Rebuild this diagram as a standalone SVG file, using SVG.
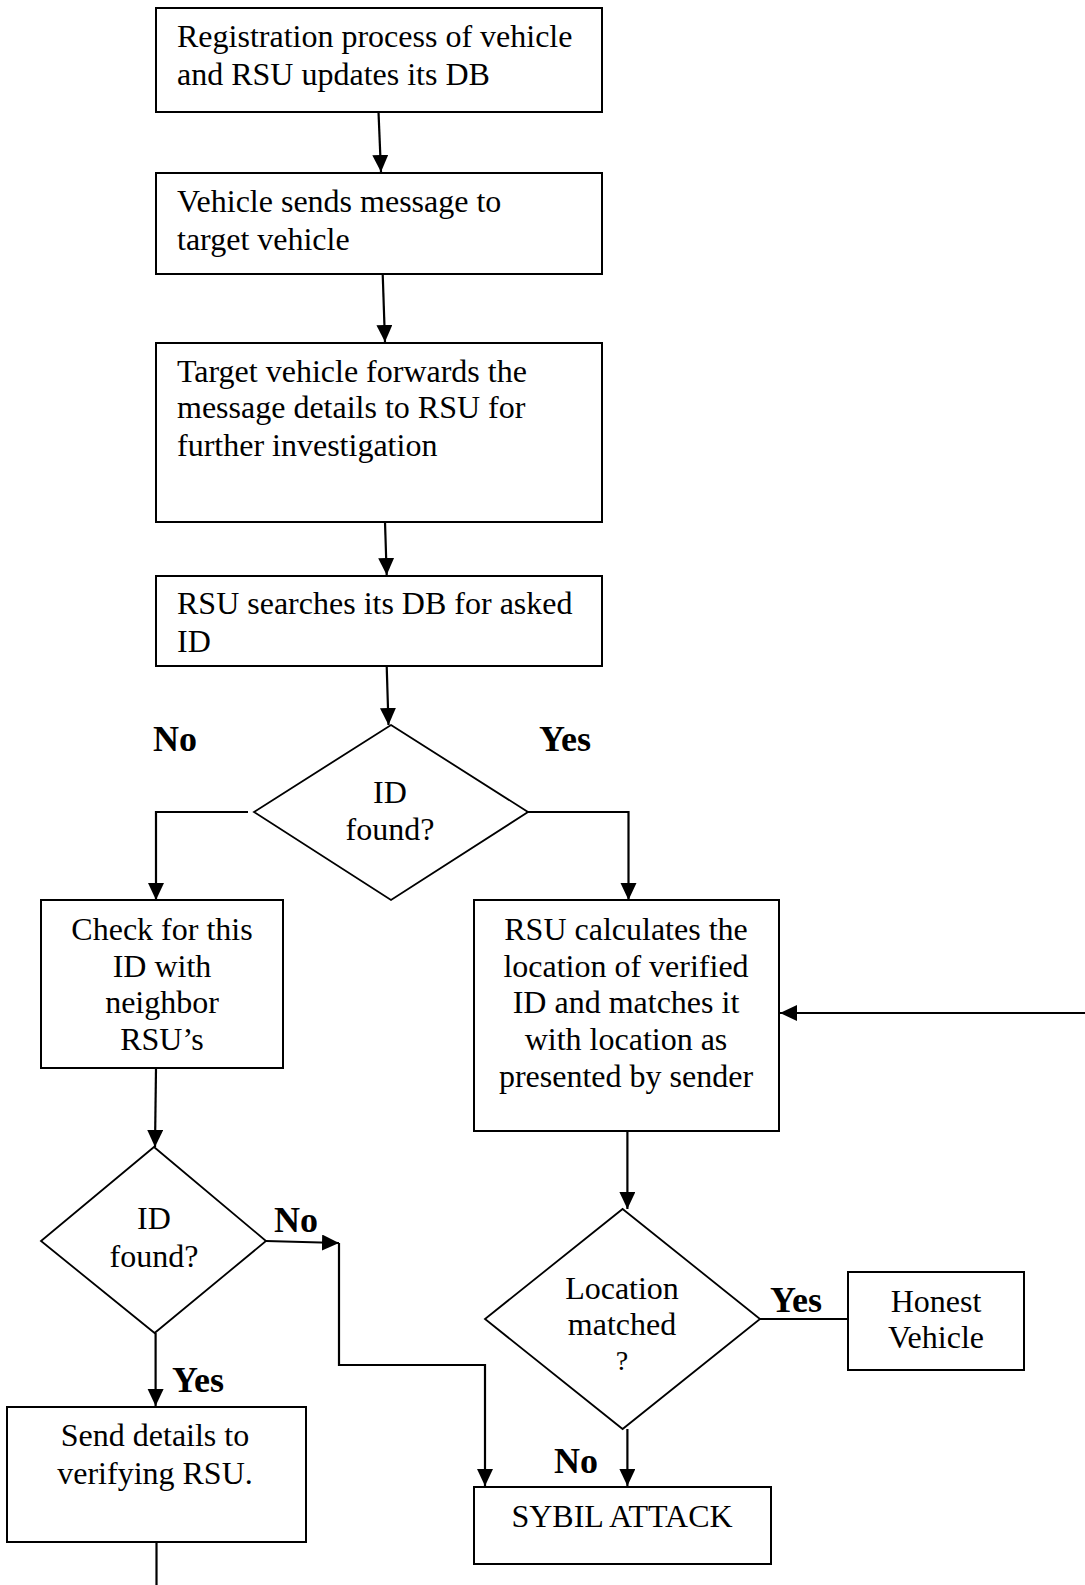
<svg xmlns="http://www.w3.org/2000/svg" width="1085" height="1585" viewBox="0 0 1085 1585">
  <style>
    .box { fill: #ffffff; stroke: #000000; stroke-width: 2; }
    .dia { fill: #ffffff; stroke: #000000; stroke-width: 1.8; }
    .t { font-family: "Liberation Serif", "Times New Roman", serif; font-size: 32px; fill: #000000; }
    .c { text-anchor: middle; }
    .lbl { font-family: "Liberation Serif", "Times New Roman", serif; font-size: 36px; font-weight: bold; fill: #000000; }
    .edge { fill: none; stroke: #000000; stroke-width: 2.2; }
  </style>
  <defs>
    <marker id="arrow" markerUnits="userSpaceOnUse" markerWidth="18" markerHeight="18" refX="17" refY="8" orient="auto">
      <path d="M0,0 L17,8 L0,16 z" fill="#000000"/>
    </marker>
  </defs>
  <rect width="1085" height="1585" fill="#ffffff"/>

  <!-- connectors -->
  <g id="connectors">
    <path class="edge" d="M378.5,112 L381,172" marker-end="url(#arrow)"/>
    <path class="edge" d="M382.7,274 L385,342" marker-end="url(#arrow)"/>
    <path class="edge" d="M385,522 L386.7,575" marker-end="url(#arrow)"/>
    <path class="edge" d="M386.7,666 L388.5,725" marker-end="url(#arrow)"/>
    <path class="edge" d="M248,812 L156,812 L156,900" marker-end="url(#arrow)"/>
    <path class="edge" d="M528,812 L628.5,812 L628.5,900" marker-end="url(#arrow)"/>
    <path class="edge" d="M1085,1013 L780,1013" marker-end="url(#arrow)"/>
    <path class="edge" d="M156,1068 L155,1147" marker-end="url(#arrow)"/>
    <path class="edge" d="M155.6,1333 L155.6,1406" marker-end="url(#arrow)"/>
    <path class="edge" d="M266,1241 L339,1243" marker-end="url(#arrow)"/>
    <path class="edge" d="M339,1243 L339,1365 L485,1365 L485,1486" marker-end="url(#arrow)"/>
    <path class="edge" d="M627.4,1131 L627.4,1209" marker-end="url(#arrow)"/>
    <path class="edge" d="M760,1319 L848,1319"/>
    <path class="edge" d="M627.4,1429 L627.4,1486" marker-end="url(#arrow)"/>
    <path class="edge" d="M156.5,1542 L156.5,1585"/>
  </g>

  <!-- process boxes -->
  <g id="register">
    <rect class="box" x="156" y="8" width="446" height="104"/>
    <text class="t" x="177" y="47">Registration process of vehicle</text>
    <text class="t" x="177" y="85">and RSU updates its DB</text>
  </g>
  <g id="send-message">
    <rect class="box" x="156" y="173" width="446" height="101"/>
    <text class="t" x="177" y="212">Vehicle sends message to</text>
    <text class="t" x="177" y="250">target vehicle</text>
  </g>
  <g id="forward">
    <rect class="box" x="156" y="343" width="446" height="179"/>
    <text class="t" x="177" y="382">Target vehicle forwards the</text>
    <text class="t" x="177" y="418">message details to RSU for</text>
    <text class="t" x="177" y="456">further investigation</text>
  </g>
  <g id="search-db">
    <rect class="box" x="156" y="576" width="446" height="90"/>
    <text class="t" x="177" y="614">RSU searches its DB for asked</text>
    <text class="t" x="177" y="652">ID</text>
  </g>

  <!-- first decision -->
  <g id="id-found-1">
    <polygon class="dia" points="391,725 528,812 391,900 254,812"/>
    <text class="t c" x="390" y="803">ID</text>
    <text class="t c" x="390" y="840">found?</text>
  </g>
  <text class="lbl" x="153" y="751">No</text>
  <text class="lbl" x="539" y="751">Yes</text>

  <g id="check-neighbor">
    <rect class="box" x="41" y="900" width="242" height="168"/>
    <text class="t c" x="162" y="940">Check for this</text>
    <text class="t c" x="162" y="977">ID with</text>
    <text class="t c" x="162" y="1013">neighbor</text>
    <text class="t c" x="162" y="1050">RSU’s</text>
  </g>

  <g id="calc-location">
    <rect class="box" x="474" y="900" width="305" height="231"/>
    <text class="t c" x="626" y="940">RSU calculates the</text>
    <text class="t c" x="626" y="977">location of verified</text>
    <text class="t c" x="626" y="1013">ID and matches it</text>
    <text class="t c" x="626" y="1050">with location as</text>
    <text class="t c" x="626" y="1087">presented by sender</text>
  </g>

  <!-- second decision -->
  <g id="id-found-2">
    <polygon class="dia" points="154,1147 266,1241 154.6,1333 41,1241"/>
    <text class="t c" x="154" y="1229">ID</text>
    <text class="t c" x="154" y="1267">found?</text>
  </g>
  <text class="lbl" x="274" y="1232">No</text>
  <text class="lbl" x="172" y="1392">Yes</text>

  <g id="send-details">
    <rect class="box" x="7" y="1407" width="299" height="135"/>
    <text class="t c" x="155" y="1446">Send details to</text>
    <text class="t c" x="155" y="1484">verifying RSU.</text>
  </g>

  <!-- location decision -->
  <g id="location-matched">
    <polygon class="dia" points="622.6,1209 760,1319 622.6,1429 485,1319"/>
    <text class="t c" x="622" y="1299">Location</text>
    <text class="t c" x="622" y="1335">matched</text>
    <text class="t c" x="622" y="1370" style="font-size:28px">?</text>
  </g>
  <text class="lbl" x="770" y="1312">Yes</text>
  <text class="lbl" x="554" y="1473">No</text>

  <g id="honest-vehicle">
    <rect class="box" x="848" y="1272" width="176" height="98"/>
    <text class="t c" x="936" y="1312">Honest</text>
    <text class="t c" x="936" y="1348">Vehicle</text>
  </g>

  <g id="sybil-attack">
    <rect class="box" x="474" y="1487" width="297" height="77"/>
    <text class="t c" x="622" y="1527">SYBIL ATTACK</text>
  </g>
</svg>
